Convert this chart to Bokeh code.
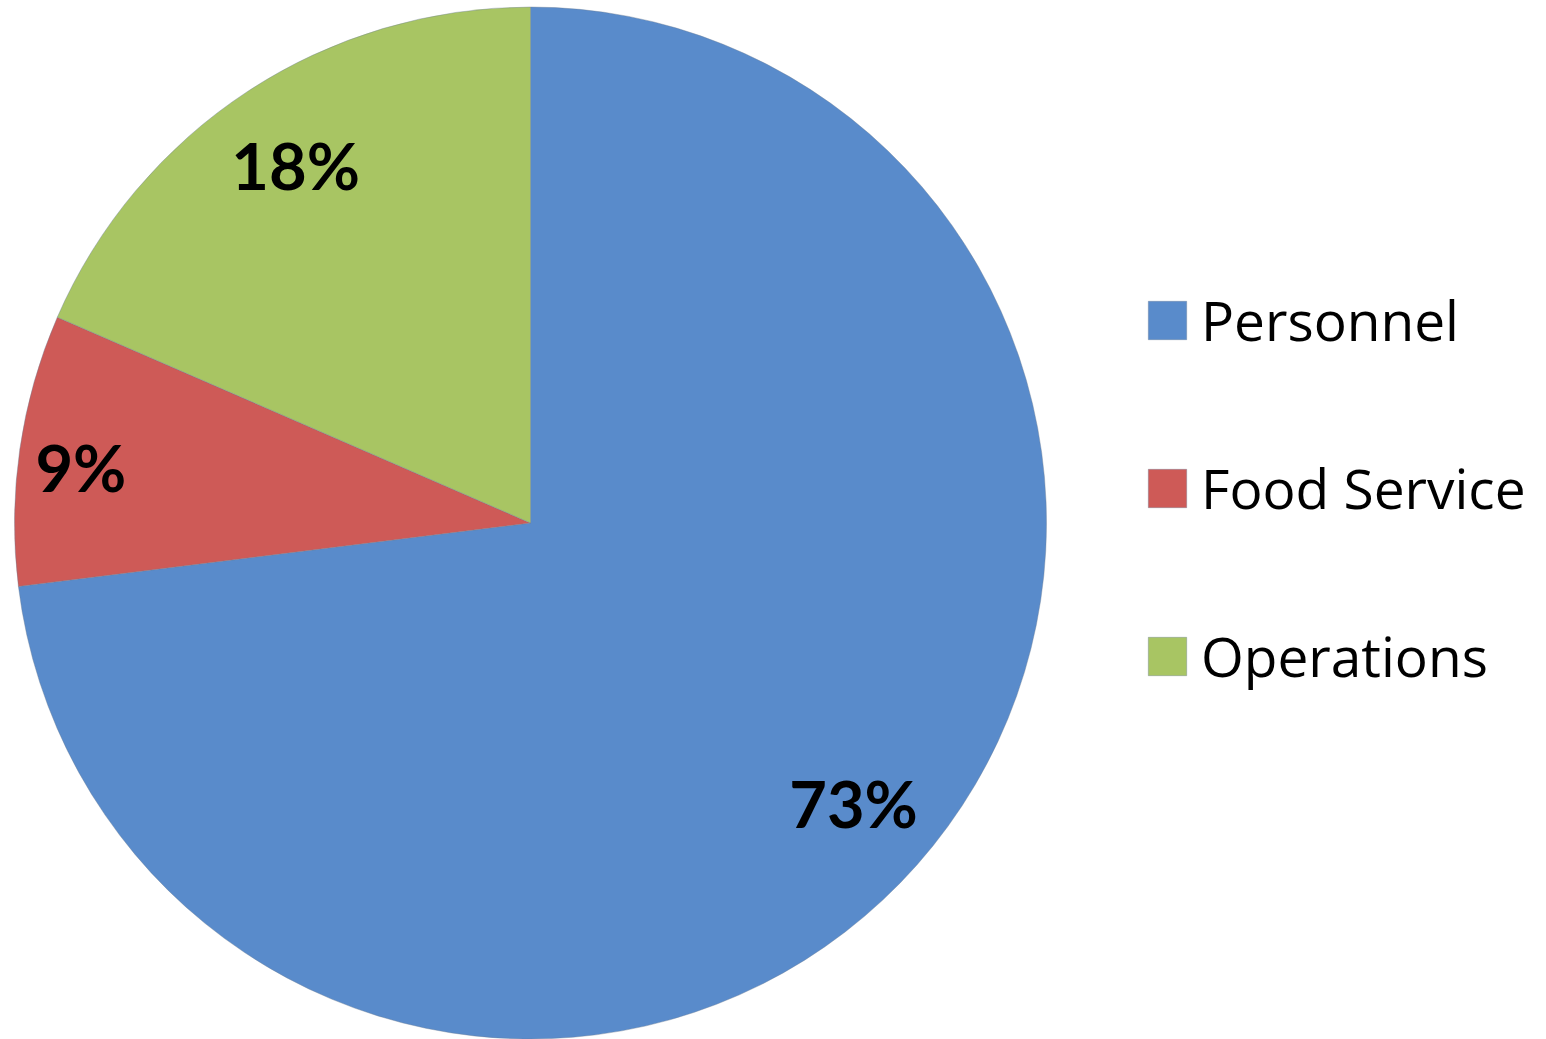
import math
from bokeh.plotting import figure
from bokeh.models import ColumnDataSource, Range1d, Legend, LegendItem
from bokeh.core.properties import value
from bokeh.embed import file_html
from bokeh.resources import INLINE

# ---- data ----
categories = ["Personnel", "Food Service", "Operations"]
shares = [73.04, 8.49, 18.47]
pct_labels = ["73%", "9%", "18%"]
colors = ["#598BCB", "#CE5A57", "#A8C563"]

# ---- geometry (page pixel space, y flipped) ----
W, H = 1546, 1039
cx, cy = 530, 1039 - 522.5
R = 516

total = sum(shares)
starts, ends, mids = [], [], []
a = math.pi / 2
for s in shares:
    sweep = 2 * math.pi * s / total
    starts.append(a)
    ends.append(a - sweep)
    mids.append(a - sweep / 2)
    a -= sweep

src = ColumnDataSource(dict(cat=categories, start=starts, end=ends, color=colors))

p = figure(width=W, height=H, output_backend="svg", toolbar_location=None,
           x_range=Range1d(0, W), y_range=Range1d(0, H),
           min_border=0, outline_line_color=None)
p.axis.visible = False
p.grid.visible = False
p.background_fill_color = "white"

r = p.wedge(x=cx, y=cy, radius=R, start_angle="start", end_angle="end",
            direction="clock", fill_color="color", line_color="#6F7F96",
            line_alpha=0.4, line_width=1, source=src)

# percentage labels
frac = [0.829, 0.878, 0.83]
dang = [0.009, 0.02, 0.0]
lx = [cx + f * R * math.cos(m + d) for f, m, d in zip(frac, mids, dang)]
ly = [cy + f * R * math.sin(m + d) for f, m, d in zip(frac, mids, dang)]
p.text(x=lx, y=ly, text=pct_labels, text_font=value("Lato"),
       text_font_style="bold", text_font_size="65px", text_color="black",
       text_align="center", text_baseline="middle")

items = [LegendItem(label=c, renderers=[r], index=i) for i, c in enumerate(categories)]
legend = Legend(items=items, location=(1143, 346), orientation="vertical",
                glyph_width=48, glyph_height=48, label_text_font="Open Sans",
                label_text_font_size="55px", label_text_color="black",
                label_standoff=10, spacing=93, padding=0, margin=0,
                border_line_color=None, background_fill_alpha=0)
p.add_layout(legend, "center")

open("out.html", "w").write(file_html(p, INLINE))
